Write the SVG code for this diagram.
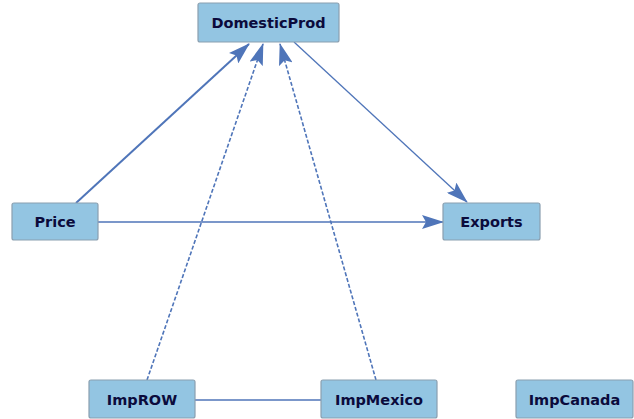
<svg xmlns="http://www.w3.org/2000/svg" width="634" height="419" viewBox="0 0 634 419">
<style>
.node rect{fill:#93c5e2;stroke:#8a9fb0;stroke-width:1.2}
.node text{font-family:"DejaVu Sans","Liberation Sans",Arial,sans-serif;font-weight:bold;font-size:14.5px;fill:#0b0b3c;text-anchor:middle;dominant-baseline:central}
.edge{stroke:#4f75b9;fill:none;stroke-width:1.3}
.thick{stroke-width:2}
.dash{stroke-dasharray:4 2;stroke-width:1.6}
</style>
<defs>
<marker id="ah" markerUnits="userSpaceOnUse" markerWidth="22" markerHeight="14" refX="21" refY="7" orient="auto">
<path d="M0,0 L22,7 L0,14 L4,7 z" fill="#4f75b9"/>
</marker>
</defs>
<rect width="634" height="419" fill="#ffffff"/>
<g id="connectors">
<line class="edge thick" x1="76" y1="203" x2="249" y2="44" marker-end="url(#ah)"/>
<line class="edge dash" x1="147" y1="380" x2="263" y2="44" marker-end="url(#ah)"/>
<line class="edge dash" x1="376" y1="380" x2="280" y2="44" marker-end="url(#ah)"/>
<line class="edge" x1="294" y1="42" x2="467" y2="202" marker-end="url(#ah)"/>
<line class="edge" x1="98" y1="222" x2="443" y2="222" marker-end="url(#ah)"/>
<line class="edge" x1="195" y1="400" x2="321" y2="400"/>
</g>
<g id="DomesticProd" class="node"><rect x="198" y="3" width="141" height="39" rx="2"/><text x="268.5" y="22.5">DomesticProd</text></g>
<g id="Price" class="node"><rect x="12" y="203" width="86" height="37" rx="2"/><text x="55" y="221.5">Price</text></g>
<g id="Exports" class="node"><rect x="443" y="203" width="97" height="37" rx="2"/><text x="491.5" y="221.5">Exports</text></g>
<g id="ImpROW" class="node"><rect x="89" y="380" width="106" height="38" rx="2"/><text x="142" y="400">ImpROW</text></g>
<g id="ImpMexico" class="node"><rect x="321" y="380" width="116" height="38" rx="2"/><text x="379" y="400">ImpMexico</text></g>
<g id="ImpCanada" class="node"><rect x="516" y="380" width="117" height="38" rx="2"/><text x="574.5" y="400">ImpCanada</text></g>
</svg>
